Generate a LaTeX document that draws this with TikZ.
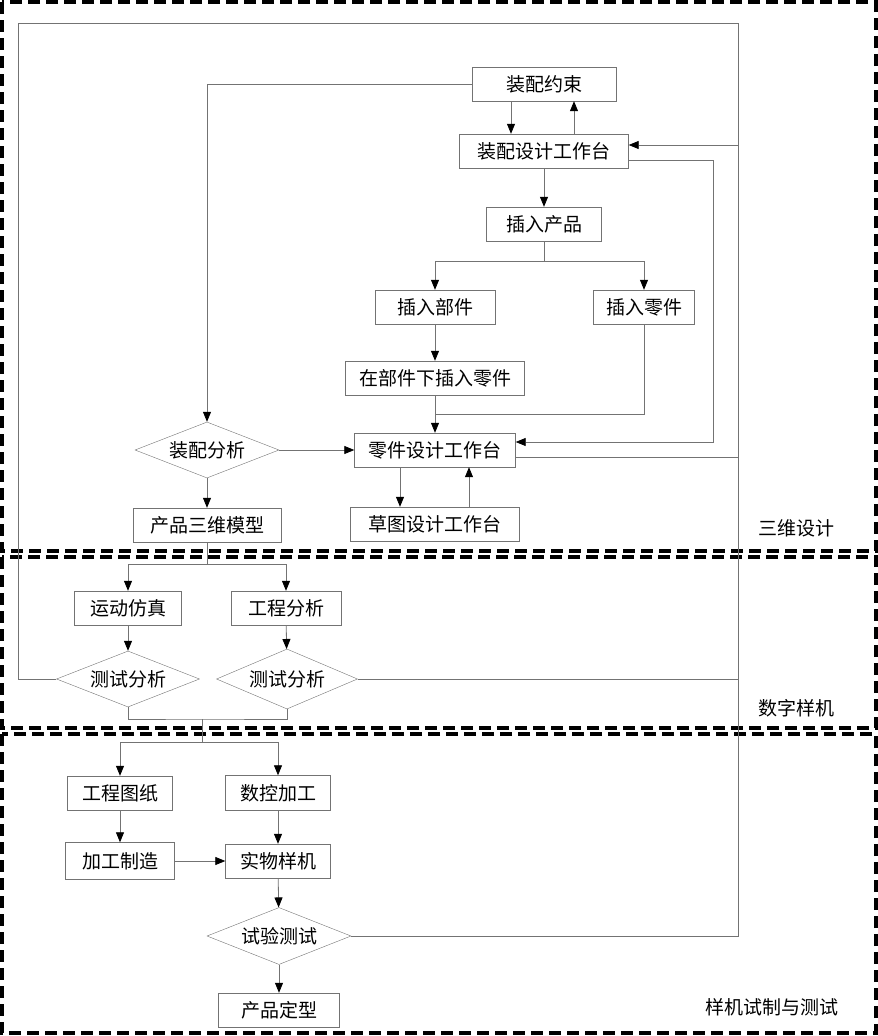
\documentclass[tikz,border=0pt]{standalone}
\usepackage{fontspec}
\newfontfamily\cjk{Noto Sans CJK SC}
\usetikzlibrary{arrows.meta,shapes.geometric}
\tikzset{box/.style={draw=black!55,inner sep=0pt,minimum height=34pt,font=\cjk\fontsize{19}{21}\selectfont},
	 dec/.style={diamond,draw=black!55,inner sep=0pt,aspect=2.6,minimum width=144pt,minimum height=56pt,font=\cjk\fontsize{19}{21}\selectfont},
	 zonelabel/.style={font=\cjk\fontsize{19}{21}\selectfont},
	 link/.style={draw=black!55,line width=0.8pt},
	 arr/.style={link,-{Triangle[length=10pt,width=8pt,color=black]}},
	 zone/.style={draw=black,line width=3.5pt,dash pattern=on 12pt off 6pt}
	 }
\begin{document}
\begin{tikzpicture}[x=1pt,y=-1pt] % assembly flow
	\useasboundingbox (0,0) rectangle (878,1036);
	% zones
	\draw[zone] (2,2) rectangle (876,551);
	\draw[zone] (2,557) rectangle (876,728);
	\draw[zone] (2,734) rectangle (876,1033);
	\node[zonelabel] (l1) at (796,528) {三维设计};
	\node[zonelabel] (l2) at (796,708) {数字样机};
	\node[zonelabel] (l3) at (772,1007) {样机试制与测试};
	% 3D design
	\node[box,minimum width=144pt] (zpys) at (544,84) {装配约束};
	\node[box,minimum width=169pt] (zpgz) at (544,151) {装配设计工作台};
	\node[box,minimum width=115pt] (crcp) at (544,224) {插入产品};
	\node[box,minimum width=120pt] (crbj) at (435,307) {插入部件};
	\node[box,minimum width=101pt] (crlj) at (644,307) {插入零件};
	\node[box,minimum width=179pt] (bjlj) at (435,378) {在部件下插入零件};
	\node[box,minimum width=161pt] (ljgz) at (435,450) {零件设计工作台};
	\node[box,minimum width=169pt] (ctgz) at (435,524) {草图设计工作台};
	\node[dec] (zpfx) at (207,450) {装配分析};
	\node[box,minimum width=148pt] (cpmx) at (207,525) {产品三维模型};
	% digital prototype
	\node[box,minimum width=107pt] (ydfz) at (128,608) {运动仿真};
	\node[box,minimum width=110pt] (gcfx) at (286,608) {工程分析};
	\node[dec,minimum width=143pt] (csfx1) at (128,679) {测试分析};
	\node[dec,minimum width=141pt,minimum height=60pt] (csfx2) at (287,679) {测试分析};
	% prototype and test
	\node[box,minimum width=105pt] (gctz) at (120,793) {工程图纸};
	\node[box,minimum width=105pt,minimum height=35pt] (skjg) at (278,793) {数控加工};
	\node[box,minimum width=109pt,minimum height=37pt] (jgzz) at (120,861) {加工制造};
	\node[box,minimum width=105pt] (swyj) at (278,861) {实物样机};
	\node[dec,minimum height=57pt] (sycs) at (279,936) {试验测试};
	\node[box,minimum width=121pt] (cpdx) at (279,1010) {产品定型};
	% helper points
	\coordinate (fbL) at (18,23);
	\coordinate (fbR) at (738,23);
	\coordinate (back) at (713,160);
	\coordinate (b1) at (544,261);
	\coordinate (j1) at (435,414);
	\coordinate (b2) at (207,564);
	\coordinate (b3) at (202,719);
	\coordinate (b4) at (202,742);
	\coordinate (zin) at ([yshift=6pt]zpgz.east);
	\coordinate (lin) at ([yshift=8pt]ljgz.east);
	\coordinate (lout) at ([yshift=-7pt]ljgz.east);
	% links
	\draw[link] (csfx1.west) -- (csfx1.west -| fbL) -- (fbL) -- (fbR) |- (sycs.east);
	\draw[arr] (fbR |- zin) -- (zin);
	\draw[link] (lout) -- (lout -| fbR);
	\draw[link] (csfx2.east) -- (csfx2.east -| fbR);
	\draw[arr] ([yshift=-9pt]zpgz.east) -| (back) |- (lin);
	\draw[arr] ([xshift=-33pt]zpys.south) -- ([xshift=-33pt]zpgz.north);
	\draw[arr] ([xshift=30pt]zpgz.north) -- ([xshift=30pt]zpys.south);
	\draw[arr] (zpgz) -- (crcp);
	\draw[link] (crcp) -- (b1);
	\draw[arr] (b1) -| (crbj);
	\draw[arr] (b1) -| (crlj);
	\draw[arr] (crbj) -- (bjlj);
	\draw[arr] (bjlj) -- (ljgz);
	\draw[link] (crlj) |- (j1);
	\draw[arr] (zpys.west) -| (zpfx.north);
	\draw[arr] (zpfx) -- (ljgz);
	\draw[arr] ([xshift=-35pt]ljgz.south) -- ([xshift=-35pt]ctgz.north);
	\draw[arr] ([xshift=34pt]ctgz.north) -- ([xshift=34pt]ljgz.south);
	\draw[arr] (zpfx) -- (cpmx);
	\draw[link] (cpmx) -- (b2);
	\draw[arr] (b2) -| (ydfz);
	\draw[arr] (b2) -| (gcfx);
	\draw[arr] (ydfz) -- (csfx1);
	\draw[arr] (gcfx) -- (csfx2);
	\draw[link] (csfx1.south) |- (b3) -| (csfx2.south);
	\draw[link] (b3) -- (b4);
	\draw[arr] (b4) -| (gctz);
	\draw[arr] (b4) -| (skjg);
	\draw[arr] (gctz) -- (jgzz);
	\draw[arr] (skjg) -- (swyj);
	\draw[arr] (jgzz) -- (swyj);
	\draw[arr] (swyj) -- (sycs);
	\draw[arr] (sycs) -- (cpdx);
\end{tikzpicture}
\end{document}
